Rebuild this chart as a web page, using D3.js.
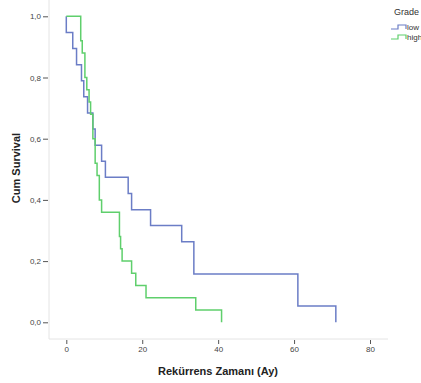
<!DOCTYPE html>
<html>
<head>
<meta charset="utf-8">
<script src="https://cdn.jsdelivr.net/npm/d3@7"></script>
<style>
  body { margin: 0; background: #fff; }
  svg { display: block; font-family: "Liberation Sans", Arial, sans-serif; }
  .tick text { font-size: 8px; fill: #444; }
  .tick line { stroke: #555; }
  .axis-title { font-size: 11px; font-weight: bold; fill: #222; }
  .legend-text { font-size: 8px; fill: #333; }
</style>
</head>
<body>
<svg id="chart" width="421" height="383"></svg>
<script>
// Kaplan-Meier steps: time (months) -> survival after drop
const lowTimes = [0, 0, 1.7, 2.7, 4.0, 4.6, 5.6, 7.0, 7.6, 9.3, 10.3, 16.3, 17.2, 22.2, 30.4, 33.6, 61, 71];
const lowSurvival = [1, 0.947, 0.895, 0.842, 0.789, 0.737, 0.684, 0.632, 0.579, 0.526, 0.474, 0.421, 0.368, 0.316, 0.263, 0.158, 0.053, 0];

const highTimes = [0, 3.8, 4.2, 4.9, 5.4, 6.0, 6.4, 7.0, 7.6, 8.1, 8.7, 9.3, 14.0, 14.3, 14.7, 17.2, 18.3, 21.0, 34.1, 40.9];
const highSurvival = [1, 0.92, 0.88, 0.80, 0.76, 0.72, 0.68, 0.60, 0.52, 0.48, 0.40, 0.36, 0.28, 0.24, 0.20, 0.16, 0.12, 0.08, 0.04, 0];

const xTicks = [0, 20, 40, 60, 80];
const yTicks = [0, 0.2, 0.4, 0.6, 0.8, 1.0];
const groups = ["low", "high"];
const colors = { low: "#6b7dc6", high: "#5fcf6c" };

const svg = d3.select("#chart");
const frame = { left: 49, right: 388, top: 0, bottom: 339 };

const x = d3.scaleLinear().domain([0, 80]).range([66.3, 370]);
const y = d3.scaleLinear().domain([0, 1]).range([322.3, 16.3]);

// light frame lines (left + bottom)
svg.append("line")
  .attr("x1", frame.left).attr("x2", frame.left)
  .attr("y1", frame.top).attr("y2", frame.bottom)
  .attr("stroke", "#e4e4e4");
svg.append("line")
  .attr("x1", frame.left).attr("x2", frame.right)
  .attr("y1", frame.bottom).attr("y2", frame.bottom)
  .attr("stroke", "#e4e4e4");

const fmt = d => d3.format(".1f")(d).replace(".", ",");

svg.append("g")
  .attr("transform", "translate(" + (frame.left - 1) + ",0)")
  .call(d3.axisLeft(y).tickValues(yTicks).tickSize(5).tickPadding(2).tickFormat(fmt))
  .call(g => g.select(".domain").remove());

svg.append("g")
  .attr("transform", "translate(0," + (frame.bottom + 1) + ")")
  .call(d3.axisBottom(x).tickValues(xTicks).tickSize(4).tickPadding(2))
  .call(g => g.select(".domain").remove());

// survival curves
const line = d3.line()
  .x(d => x(d[0]))
  .y(d => y(d[1]))
  .curve(d3.curveStepAfter);

const series = {
  low: d3.zip(lowTimes, lowSurvival),
  high: d3.zip(highTimes, highSurvival)
};

svg.append("g")
  .selectAll("path")
  .data(groups)
  .join("path")
    .attr("d", g => line(series[g]))
    .attr("fill", "none")
    .attr("stroke", g => colors[g])
    .attr("stroke-width", 1.5);

// axis titles
svg.append("text")
  .attr("class", "axis-title")
  .attr("x", 218).attr("y", 375)
  .attr("text-anchor", "middle")
  .text("Rekürrens Zamanı (Ay)");

svg.append("text")
  .attr("class", "axis-title")
  .attr("transform", "translate(20,168) rotate(-90)")
  .attr("text-anchor", "middle")
  .text("Cum Survival");

// legend
svg.append("text")
  .attr("class", "legend-text")
  .attr("x", 394).attr("y", 15)
  .style("font-size", "9px")
  .text("Grade");

const leg = svg.append("g")
  .selectAll("g")
  .data(groups)
  .join("g")
    .attr("transform", (d, i) => "translate(391," + (27 + i * 10) + ")");
leg.append("path")
  .attr("d", "M0,2H7V-2H15V2")
  .attr("fill", "none")
  .attr("stroke", d => colors[d])
  .attr("stroke-width", 1.2);
leg.append("text")
  .attr("class", "legend-text")
  .attr("x", 16).attr("y", 3)
  .text(d => d);
</script>
</body>
</html>
